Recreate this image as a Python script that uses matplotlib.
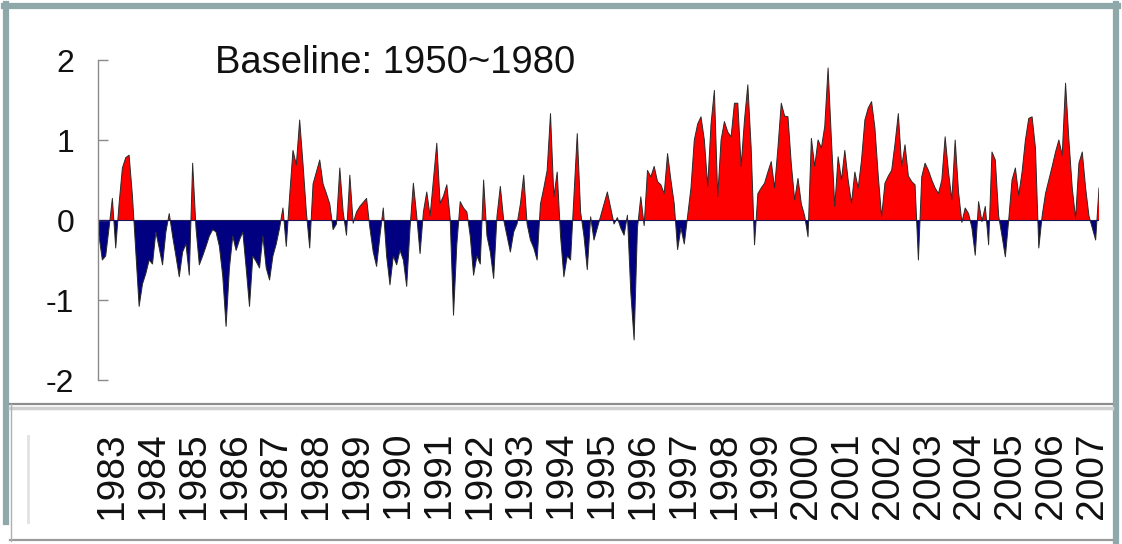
import numpy as np
import matplotlib
matplotlib.use("Agg")
import matplotlib.pyplot as plt
from matplotlib.lines import Line2D

plt.rcParams['font.family'] = ['Liberation Sans', 'DejaVu Sans']

# ---- data: monthly anomalies (deg C) ----
years = [str(y) for y in range(1983, 2008)]
a1983 = [-0.2, -0.5, -0.45, -0.1, 0.27, -0.35, 0.2, 0.65, 0.78, 0.81, 0.3, -0.4]
a1984 = [-1.08, -0.8, -0.67, -0.5, -0.55, -0.15, -0.35, -0.56, -0.15, 0.08, -0.2, -0.45]
a1985 = [-0.71, -0.4, -0.3, -0.69, 0.71, -0.1, -0.56, -0.45, -0.33, -0.2, -0.12, -0.15]
a1986 = [-0.33, -0.7, -1.33, -0.6, -0.2, -0.38, -0.25, -0.15, -0.6, -1.08, -0.45, -0.52]
a1987 = [-0.6, -0.2, -0.6, -0.75, -0.45, -0.3, -0.1, 0.15, -0.33, 0.3, 0.87, 0.69]
a1988 = [1.25, 0.7, 0.1, -0.35, 0.45, 0.6, 0.75, 0.45, 0.33, 0.2, -0.12, -0.05]
a1989 = [0.65, 0.1, -0.19, 0.56, -0.04, 0.1, 0.17, 0.22, 0.27, -0.1, -0.4, -0.58]
a1990 = [-0.2, 0.15, -0.45, -0.81, -0.45, -0.56, -0.38, -0.5, -0.83, -0.1, 0.46, 0.05]
a1991 = [-0.42, 0.1, 0.35, 0.05, 0.5, 0.96, 0.21, 0.3, 0.44, 0.02, -1.19, -0.3]
a1992 = [0.23, 0.15, 0.1, -0.2, -0.69, -0.45, -0.55, 0.5, -0.2, -0.4, -0.73, 0.05]
a1993 = [0.42, 0.0, -0.2, -0.4, -0.15, -0.05, 0.2, 0.56, -0.05, -0.25, -0.35, -0.5]
a1994 = [0.2, 0.4, 0.62, 1.33, 0.29, 0.6, -0.2, -0.71, -0.45, -0.5, 0.3, 1.08]
a1995 = [0.1, -0.2, -0.62, 0.04, -0.25, -0.1, 0.05, 0.2, 0.35, 0.15, -0.05, 0.03]
a1996 = [-0.1, -0.19, 0.06, -0.9, -1.5, -0.1, 0.29, -0.07, 0.62, 0.54, 0.67, 0.48]
a1997 = [0.44, 0.33, 0.83, 0.5, 0.2, -0.37, -0.1, -0.3, 0.05, 0.4, 1.0, 1.2]
a1998 = [1.29, 1.0, 0.42, 1.2, 1.62, 0.29, 1.0, 1.23, 1.1, 1.04, 1.46, 1.46]
a1999 = [0.67, 1.25, 1.69, 0.9, -0.31, 0.33, 0.4, 0.46, 0.6, 0.73, 0.4, 0.9]
a2000 = [1.46, 1.3, 1.29, 0.7, 0.25, 0.52, 0.2, 0.05, -0.21, 1.02, 0.67, 1.0]
a2001 = [0.9, 1.17, 1.9, 1.0, 0.17, 0.79, 0.5, 0.87, 0.5, 0.21, 0.6, 0.4]
a2002 = [0.75, 1.25, 1.4, 1.48, 1.15, 0.55, 0.04, 0.46, 0.55, 0.62, 0.95, 1.33]
a2003 = [0.67, 0.94, 0.55, 0.48, 0.44, -0.5, 0.54, 0.71, 0.62, 0.5, 0.4, 0.33]
a2004 = [0.5, 1.04, 0.6, 0.25, 1.0, 0.35, -0.03, 0.15, 0.08, -0.1, -0.44, 0.23]
a2005 = [-0.02, 0.17, -0.31, 0.85, 0.75, 0.05, -0.2, -0.46, 0.0, 0.5, 0.65, 0.31]
a2006 = [0.6, 1.0, 1.27, 1.29, 0.9, -0.35, 0.05, 0.33, 0.5, 0.67, 0.85, 1.0]
a2007 = [0.81, 1.71, 1.0, 0.4, 0.02, 0.71, 0.85, 0.4, 0.05, -0.1, -0.25, 0.4]

yticks = [-2, -1, 0, 1, 2]
ytick_labels = ['-2', '-1', '0', '1', '2']
note = "Baseline: 1950~1980"

anomaly = np.array(a1983 + a1984 + a1985 + a1986 + a1987 + a1988 + a1989 +
                   a1990 + a1991 + a1992 + a1993 + a1994 + a1995 + a1996 +
                   a1997 + a1998 + a1999 + a2000 + a2001 + a2002 + a2003 +
                   a2004 + a2005 + a2006 + a2007)
months = np.arange(len(anomaly))

# ---- figure ----
W, H = 1122, 544
fig = plt.figure(figsize=(W / 100, H / 100), dpi=100)
fig.patch.set_facecolor('white')


def box(x0, y0, x1, y1):
    return [x0 / W, 1 - y1 / H, (x1 - x0) / W, (y1 - y0) / H]


def fline(xs, ys, **kw):
    fig.add_artist(Line2D([x / W for x in xs], [1 - y / H for y in ys],
                          transform=fig.transFigure, **kw))


# frame decorations
teal = '#8fa9aa'
fline([6, 6], [4, 522], color=teal, lw=4.5)
fline([4, 1118], [6, 6], color=teal, lw=4.5)
fline([1116, 1116], [4, 544], color=teal, lw=4.5)
fline([10, 1112], [404, 404], color='#8c8c8c', lw=1.6)
fline([10, 1112], [408, 408], color='#cfcfcf', lw=2.5)
fline([10, 1112], [540, 540], color='#9a9a9a', lw=1.6)
fline([11, 11], [404, 541], color='#b0b0b0', lw=1.0)
fline([28, 28], [436, 522], color='#e2e2e2', lw=2.0)

# main chart
ax = fig.add_axes(box(99, 60, 1099, 380))
ax.fill_between(months, anomaly, 0, where=anomaly >= 0, interpolate=True,
                color='#ff0000', lw=0)
ax.fill_between(months, anomaly, 0, where=anomaly <= 0, interpolate=True,
                color='#000080', lw=0)
ax.plot(months, anomaly, color='#2a2a2a', lw=0.7)
ax.axhline(0, color='#1a1a5a', lw=0.8)
ax.set_xlim(months[0], months[-1])
ax.set_ylim(-2, 2)
for s in ['top', 'right', 'bottom']:
    ax.spines[s].set_visible(False)
ax.spines['left'].set_color('#8a8a8a')
ax.spines['left'].set_linewidth(1.0)
ax.spines['left'].set_position(('outward', 1))
ax.set_xticks([])
ax.set_yticks(yticks, ytick_labels)
ax.tick_params(axis='y', direction='in', length=7, width=1.0, color='#8a8a8a',
               labelsize=23, pad=17, labelcolor='#111111')
ax.text(0.116, 0.99, note, transform=ax.transAxes, fontsize=27.5,
        va='center', ha='left', color='#111111')

# year label strip (separate panel in the original)
ax2 = fig.add_axes(box(99, 431, 1099, 432))
ax2.set_xlim(months[0], months[-1])
ax2.set_ylim(0, 1)
for s in ax2.spines.values():
    s.set_visible(False)
ax2.patch.set_alpha(0)
ax2.set_yticks([])
label_pos = np.linspace(3.9, 296.9, len(years))
ax2.set_xticks(label_pos, years, rotation=90)
ax2.tick_params(axis='x', length=0, pad=0, labelsize=28, labelcolor='#111111')

fig.savefig('out.png', dpi=100, facecolor='white')
